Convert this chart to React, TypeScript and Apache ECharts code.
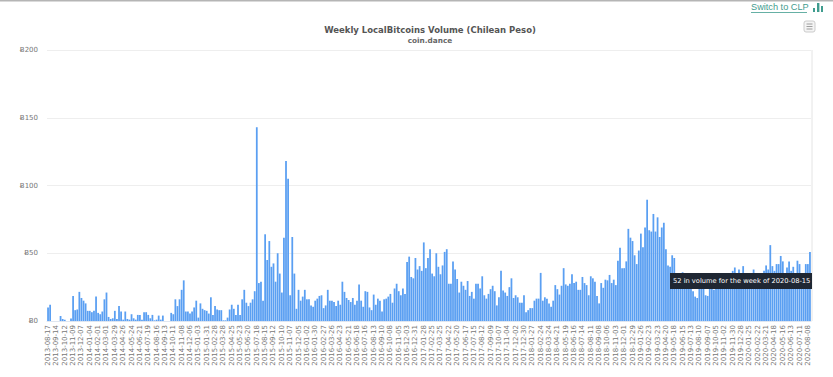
import React, { useEffect, useRef } from "react";
import * as echarts from "echarts";

const firstWeek = "2013-08-17";
const weekCount = 366;
const categories: string[] = Array.from({ length: weekCount }, (_, i) =>
  new Date(Date.parse(firstWeek + "T00:00:00Z") + i * 7 * 86400000).toISOString().slice(0, 10)
);

const volumes2013 = [10,12,0,0,0,0,3.7,1.5,1,0,0,1.8,18.5,8,8.5,21.5,17,15,13,7.5,7.5,6.5,7.5,18,6,5,7,16,21,3,1.5,2,7.5,1.5,11,7,1,7,1.5,1,5,2,1,4.5,4.5,1,6.5,6.5,4.5,2,4.5,0.5,1,4,1,4,0,0,0,6,5];
const volumes2014 = [16,11,16,23,30,7,7,5.5,7,10,15,2.5,13,9,8,7.5,5.5,17.5,4.5,11,8.5,8,8,0.5,0.5,2.5,8.5,12,9,4.5,12,4.5,16,23,13.5,11,13.5,16,22];
const volumes2015 = [143,28,29,15,64,45,59,40,42.5,29,50,35,21,61.5,118,105,19,62,35,9,23];
const volumes2016 = [15,18,23,16,16,11.5,10.5,15,16.5,18.5,19,9.5,11.5,23,15,15,14,11,15,12,29,21.5,17,15.5,14,17,12,15,27,15,10.5,22,21.5,10,8,19.5,12,16.5,15,7,16,16.5,18,20,13.5,24,27.5,22,19,24,20,43.5,47.5,32.5,31.5,46.5,38,40.5,37,58,39,46.5,53];
const volumes2017 = [35,33,50,40,34.5,41,51,53,27.5,27.5,44,38,31,21,29,26,23,29.5,18.5,21.5,16.5,27.5,27.5,24,33,19,16.5,20,23.5,26,22,11.5,17.5,37,22.5,21,18.5,25,31.5,17,19,17.5,13.5,13.5,19,6.5,8,9.5,9.5,15,16.5,16.5,35.5,15,17.5,16.5,13,10.5,15,26.5,23.5,19.5];
const volumes2018 = [26,39,27,26,27.5,34.5,28,29,23,23,32.5,28,26.5,19,33,31.5,29,18.5,13,28,24.5,30.5,30,34,28,30.5,26.5,44.5,54,39,39,44,68,61.5,59,48.5,42,52,64.5,54.5,69,89.5,67,66,79,66,76.5,62,69,72.5,53,41,40,48.5,46.5];
const volumes2019 = [30,28,33,36,33,35,31,28,22,18,17,26,27,24,19,18.5,27,30,23,28,30,29,27,31,30,32,34,37,39.5,33,38,31,40.5,30,32,28,33,38,30,33,28,31,37,41,38,56,40.5,37,42,42,48,44,34,39.5,44,37,40,33,44.5,42,30,28,42,42,51];
const volumes = [...volumes2013, ...volumes2014, ...volumes2015, ...volumes2016, ...volumes2017, ...volumes2018, ...volumes2019];

const titleText = "Weekly LocalBitcoins Volume (Chilean Peso)";
const subtitleText = "coin.dance";
const switchText = "Switch to CLP";
const tooltipText = "52 in volume for the week of 2020-08-15";
const yTicks = [0, 50, 100, 150, 200];
const teal = "#3f9c8e";

export default function App() {
  const ref = useRef<HTMLDivElement>(null);
  useEffect(() => {
    document.body.style.margin = "0";
    const chart = echarts.init(ref.current!, undefined, { renderer: "svg" });
    chart.setOption({
      animation: false,
      backgroundColor: "#fff",
      textStyle: { fontFamily: "'Open Sans', sans-serif" },
      title: {
        text: titleText,
        subtext: subtitleText,
        left: 430,
        top: 25,
        textAlign: "center",
        itemGap: 3,
        padding: 0,
        textStyle: { fontFamily: "'DejaVu Sans', sans-serif", fontSize: 8.5, fontWeight: "bold", color: "#555" },
        subtextStyle: { fontFamily: "'DejaVu Sans', sans-serif", fontSize: 7.3, fontWeight: "bold", color: "#666" },
      },
      grid: { left: 47, right: 22, top: 50, bottom: 56 },
      xAxis: {
        type: "category",
        data: categories,
        boundaryGap: true,
        axisTick: { show: false },
        axisLine: { show: true, lineStyle: { color: "#dfe6f0", width: 1 } },
        axisLabel: {
          interval: 3,
          rotate: 90,
          fontSize: 7,
          color: "#777",
          margin: 4,
          hideOverlap: false,
          fontFamily: "'DejaVu Sans', sans-serif",
        },
      },
      yAxis: {
        type: "value",
        min: 0,
        max: 200,
        interval: 50,
        axisLine: { show: false },
        axisTick: { show: false },
        splitLine: { lineStyle: { color: "#eeeeee", width: 1 } },
        axisLabel: {
          fontSize: 7,
          color: "#777",
          margin: 9,
          fontFamily: "'DejaVu Sans', sans-serif",
          formatter: (v: number) => (yTicks.includes(v) ? "Ƀ" + v : ""),
        },
      },
      series: [
        {
          type: "bar",
          data: volumes,
          barWidth: "85%",
          itemStyle: { color: "#5a9ff2" },
        },
      ],
      graphic: [
        { type: "rect", shape: { x: 0, y: 0, width: 833, height: 1.5 }, style: { fill: "#b5b5b5" } },
        { type: "line", shape: { x1: 812, y1: 50, x2: 812, y2: 321 }, style: { stroke: "#e4e4e4", lineWidth: 1 } },
        { type: "text", x: 751, y: 2, style: { text: switchText, fill: teal, fontSize: 9.2, fontFamily: "'Liberation Sans', sans-serif" } },
        { type: "line", shape: { x1: 751, y1: 12.5, x2: 807, y2: 12.5 }, style: { stroke: teal, lineWidth: 0.8 } },
        { type: "rect", shape: { x: 813, y: 8, width: 2, height: 4 }, style: { fill: teal } },
        { type: "rect", shape: { x: 817, y: 3, width: 2.4, height: 9 }, style: { fill: teal } },
        { type: "rect", shape: { x: 821, y: 6, width: 2, height: 6 }, style: { fill: teal } },
        { type: "rect", shape: { x: 804, y: 21, width: 11, height: 11, r: 2 }, style: { fill: "#f4f4f4", stroke: "#cccccc", lineWidth: 1 } },
        { type: "line", shape: { x1: 806.5, y1: 24, x2: 812.5, y2: 24 }, style: { stroke: "#888", lineWidth: 0.8 } },
        { type: "line", shape: { x1: 806.5, y1: 26.5, x2: 812.5, y2: 26.5 }, style: { stroke: "#888", lineWidth: 0.8 } },
        { type: "line", shape: { x1: 806.5, y1: 29, x2: 812.5, y2: 29 }, style: { stroke: "#888", lineWidth: 0.8 } },
        { type: "rect", z: 100, shape: { x: 670, y: 273, width: 142, height: 16 }, style: { fill: "#1f2733" } },
        { type: "text", z: 101, x: 673, y: 277.5, style: { text: tooltipText, fill: "#ffffff", fontSize: 6.7, fontFamily: "'DejaVu Sans', sans-serif" } },
      ],
    });
    return () => chart.dispose();
  }, []);
  return <div ref={ref} style={{ width: 833, height: 377 }} />;
}
